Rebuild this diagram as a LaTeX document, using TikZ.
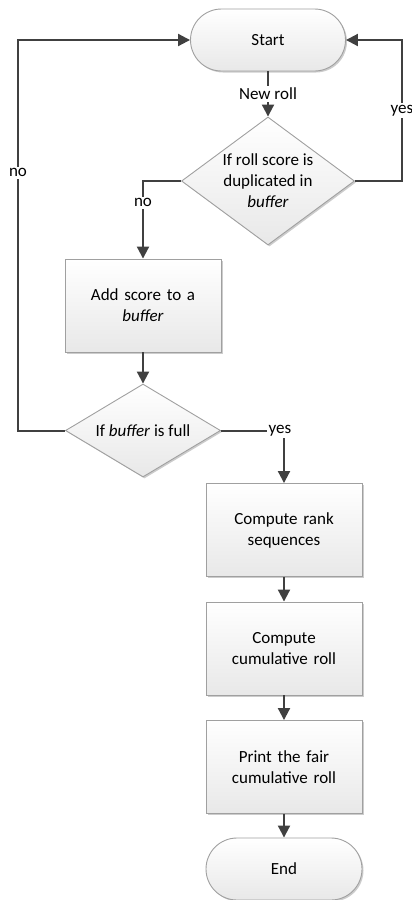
\documentclass[tikz,border=0pt]{standalone}
\usepackage{fontspec}
\setmainfont{Carlito}
\usetikzlibrary{shapes.geometric,shapes.misc,arrows.meta,shadows}
\definecolor{conn}{HTML}{404040}
\definecolor{bord}{HTML}{A0A0A0}
\begin{document}
\begin{tikzpicture}[x=1pt,y=-1pt,
  font=\fontsize{17}{21}\selectfont,
  boxstyle/.style={draw=bord, line width=0.9pt, top color=white, bottom color=black!9,
    drop shadow={shadow xshift=1.5pt, shadow yshift=-1.5pt, opacity=0.2, fill=black},
    align=center, inner sep=0pt},
  procbox/.style={boxstyle, rectangle, minimum width=156pt, minimum height=93pt, text width=130pt},
  termbox/.style={boxstyle, rounded rectangle, minimum width=155pt, minimum height=62pt},
  decbox/.style={boxstyle, diamond, inner sep=0pt},
  txt/.style={align=center, inner sep=0pt},
  arr/.style={draw=conn, line width=2pt, -{Triangle[length=12pt,width=12pt]}},
  ln/.style={draw=conn, line width=2pt},
  lbl/.style={fill=white, inner sep=2pt}]
\useasboundingbox (0,0) rectangle (412,900);
\node[termbox] (start) at (268,40) {Start};
\node[decbox, minimum width=173pt, minimum height=128pt] (d1) at (268,181) {};
\node[txt] (d1t) at (d1.center) {If roll score is\\duplicated in\\\textit{buffer}};
\node[procbox] (add) at (143,305.5) {Add score to a\\\textit{buffer}};
\node[decbox, minimum width=155pt, minimum height=93pt] (d2) at (143,430.5) {};
\node[txt] (d2t) at (d2.center) {If \textit{buffer} is full};
\node[procbox] (rank) at (284,530) {Compute rank\\sequences};
\node[procbox] (cum) at (284,648.5) {Compute\\cumulative roll};
\node[procbox] (print) at (284,767) {Print the fair\\cumulative roll};
\node[termbox, minimum width=156pt] (end) at (284,869) {End};
\coordinate (yr) at (402,40);
\coordinate (nl) at (18,40);

\draw[arr] (start.south) -- node[lbl, pos=0.5] {New roll} (d1.north);
\draw[arr] (d1.east) -| node[lbl, pos=0.75] {yes} (yr) -- (start.east);
\draw[arr] (d1.west) -| node[lbl, pos=0.64] {no} (add.north);
\draw[arr] (add.south) -- (d2.north);
\draw[arr] (d2.west) -| node[lbl, pos=0.83] {no} (nl) -- (start.west);
\draw[arr] (d2.east) -| node[lbl, pos=0.5, xshift=-4pt] {yes} (rank.north);
\draw[arr] (rank.south) -- (cum.north);
\draw[arr] (cum.south) -- (print.north);
\draw[arr] (print.south) -- (end.north);
\end{tikzpicture}
\end{document}
